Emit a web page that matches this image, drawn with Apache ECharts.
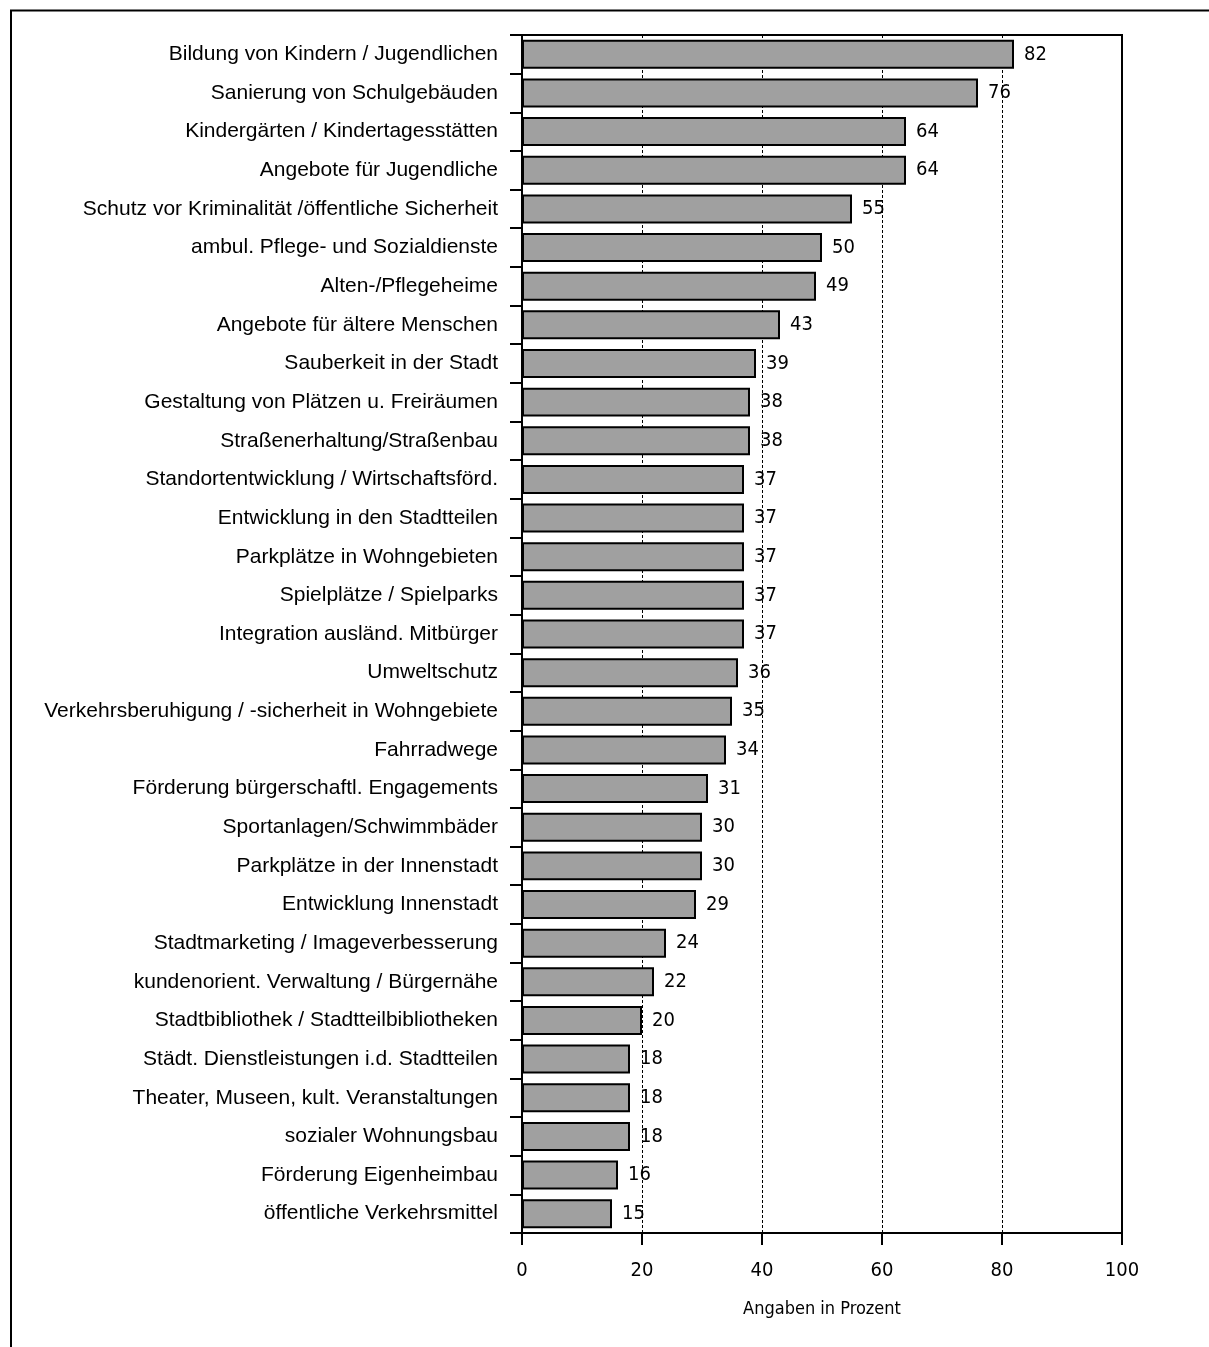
<!DOCTYPE html>
<html><head><meta charset="utf-8">
<script src="https://cdn.jsdelivr.net/npm/echarts@6/dist/echarts.min.js"></script>
<style>html,body{margin:0;padding:0;background:#fff}#c{width:1209px;height:1347px}</style>
</head><body><div id="c"></div>
<script>
var categories = [
  "Bildung von Kindern / Jugendlichen",
  "Sanierung von Schulgebäuden",
  "Kindergärten / Kindertagesstätten",
  "Angebote für Jugendliche",
  "Schutz vor Kriminalität /öffentliche Sicherheit",
  "ambul. Pflege- und Sozialdienste",
  "Alten-/Pflegeheime",
  "Angebote für ältere Menschen",
  "Sauberkeit in der Stadt",
  "Gestaltung von Plätzen u. Freiräumen",
  "Straßenerhaltung/Straßenbau",
  "Standortentwicklung / Wirtschaftsförd.",
  "Entwicklung in den Stadtteilen",
  "Parkplätze in Wohngebieten",
  "Spielplätze / Spielparks",
  "Integration ausländ. Mitbürger",
  "Umweltschutz",
  "Verkehrsberuhigung / -sicherheit in Wohngebiete",
  "Fahrradwege",
  "Förderung bürgerschaftl. Engagements",
  "Sportanlagen/Schwimmbäder",
  "Parkplätze in der Innenstadt",
  "Entwicklung Innenstadt",
  "Stadtmarketing / Imageverbesserung",
  "kundenorient. Verwaltung / Bürgernähe",
  "Stadtbibliothek / Stadtteilbibliotheken",
  "Städt. Dienstleistungen i.d. Stadtteilen",
  "Theater, Museen, kult. Veranstaltungen",
  "sozialer Wohnungsbau",
  "Förderung Eigenheimbau",
  "öffentliche Verkehrsmittel"
];
var values = [82, 76, 64, 64, 55, 50, 49, 43, 39, 38, 38, 37, 37, 37, 37, 37, 36, 35, 34, 31, 30, 30, 29, 24, 22, 20, 18, 18, 18, 16, 15];
var xTicks = [0, 20, 40, 60, 80, 100];
var axisTitle = "Angaben in Prozent";

var narrow = "'Liberation Sans Narrow', 'DejaVu Sans Condensed', sans-serif";
var chart = echarts.init(document.getElementById('c'), null, {renderer: 'canvas'});
chart.setOption({
  animation: false,
  backgroundColor: '#fff',
  graphic: [{
    type: 'rect', silent: true,
    shape: {x: 11, y: 10.5, width: 1205, height: 1400},
    style: {fill: 'none', stroke: '#000', lineWidth: 2}
  }],
  grid: {left: 522, right: 87, top: 35, bottom: 114, show: true, borderColor: '#000', borderWidth: 2, backgroundColor: 'transparent'},
  xAxis: {
    type: 'value', min: xTicks[0], max: xTicks[xTicks.length - 1], interval: 20,
    name: axisTitle, nameLocation: 'middle', nameGap: 67,
    nameTextStyle: {fontFamily: narrow, fontSize: 18, color: '#000'},
    axisLine: {show: true, lineStyle: {color: '#000', width: 2}},
    axisTick: {show: true, length: 12, lineStyle: {color: '#000', width: 2}},
    axisLabel: {fontFamily: narrow, fontSize: 20, color: '#000', margin: 28},
    splitLine: {show: true, lineStyle: {color: '#000', width: 1, type: [3, 2]}}
  },
  yAxis: {
    type: 'category', data: categories, inverse: true,
    axisLine: {show: true, lineStyle: {color: '#000', width: 2}},
    axisTick: {show: true, length: 12, lineStyle: {color: '#000', width: 2}},
    axisLabel: {fontFamily: "'Liberation Sans', Arial, sans-serif", fontSize: 21, color: '#000', margin: 24}
  },
  series: [{
    type: 'bar', data: values, barCategoryGap: '25%',
    itemStyle: {color: '#a0a0a0', borderColor: '#000', borderWidth: 2},
    label: {show: true, position: 'right', distance: 10, fontFamily: narrow, fontSize: 20, color: '#000'}
  }]
});
</script></body></html>
